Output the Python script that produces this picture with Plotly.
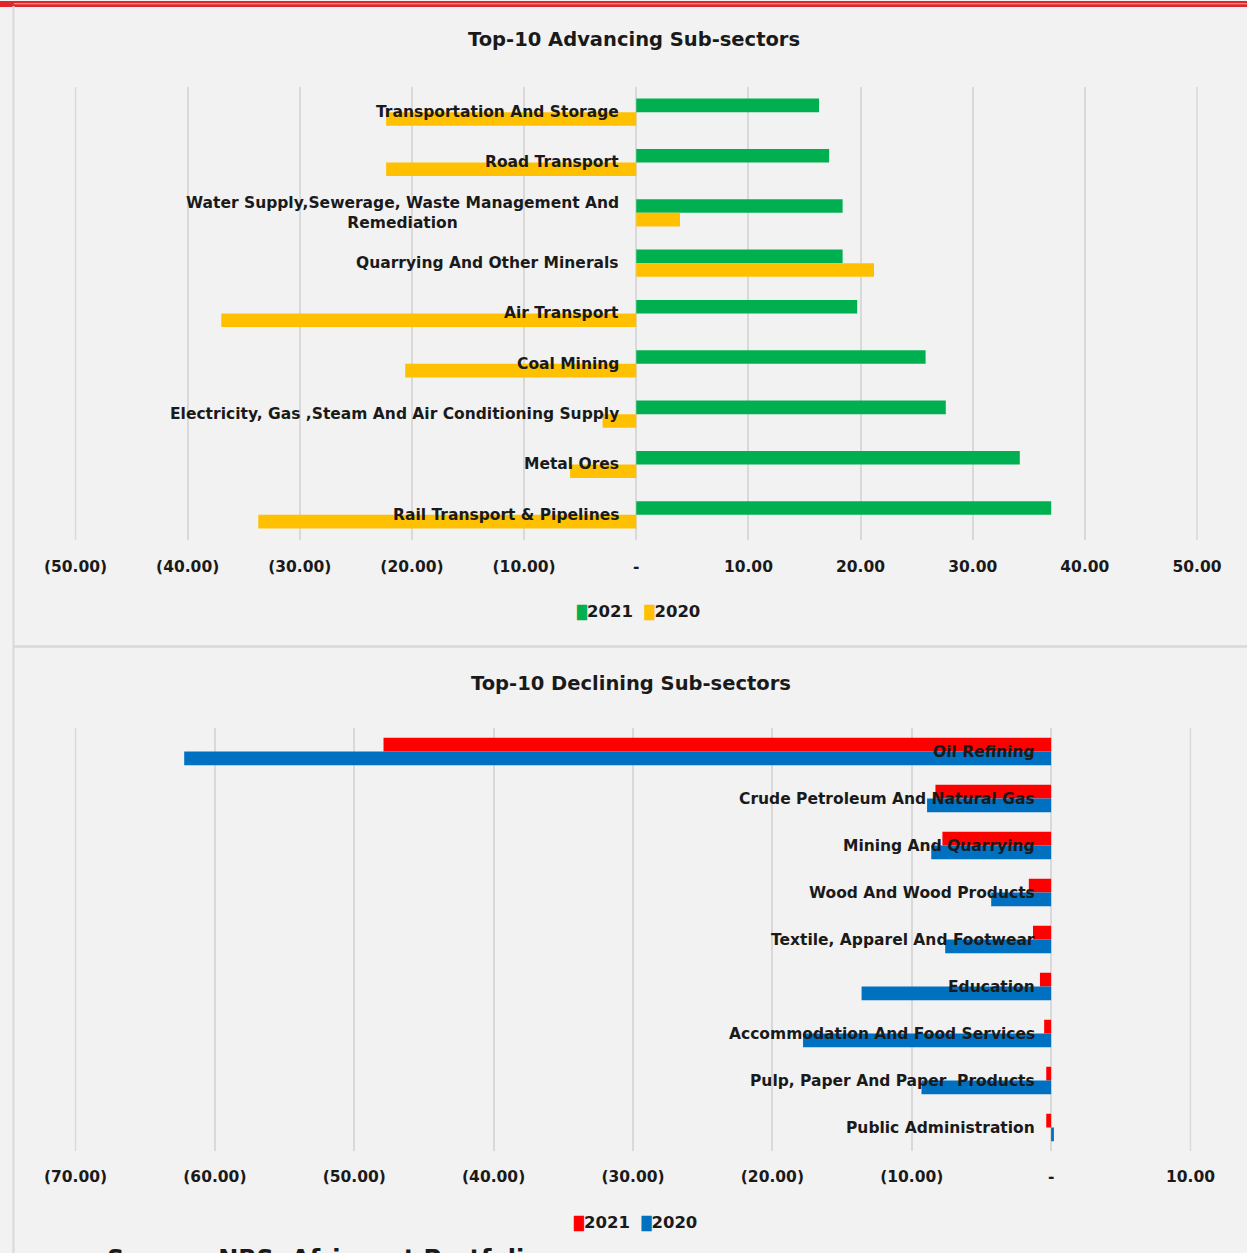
import plotly.graph_objects as go

# ---- Advancing sub-sectors (growth, %) ----
adv_categories = [
    "Transportation And Storage",
    "Road Transport",
    "Water Supply,Sewerage, Waste Management And<br>Remediation",
    "Quarrying And Other Minerals",
    "Air Transport",
    "Coal Mining",
    "Electricity, Gas ,Steam And Air Conditioning Supply",
    "Metal Ores",
    "Rail Transport & Pipelines",
]
adv_2021 = [16.3, 17.2, 18.4, 18.4, 19.7, 25.8, 27.6, 34.2, 37.0]
adv_2020 = [-22.3, -22.3, 3.9, 21.2, -37.0, -20.6, -3.0, -5.9, -33.7]

# ---- Declining sub-sectors (growth, %) ----
dec_categories = [
    "Oil Refining",
    "Crude Petroleum And Natural Gas",
    "Mining And Quarrying",
    "Wood And Wood Products",
    "Textile, Apparel And Footwear",
    "Education",
    "Accommodation And Food Services",
    "Pulp, Paper And Paper  Products",
    "Public Administration",
]
dec_2021 = [-47.9, -8.3, -7.8, -1.6, -1.3, -0.8, -0.5, -0.35, -0.35]
dec_2020 = [-62.2, -8.9, -8.6, -4.3, -7.6, -13.6, -17.8, -9.3, 0.2]

adv_ticks = [-50, -40, -30, -20, -10, 0, 10, 20, 30, 40, 50]
dec_ticks = [-70, -60, -50, -40, -30, -20, -10, 0, 10]

series_years = ["2021", "2020"]
adv_colors = ["#00b050", "#ffc000"]
dec_colors = ["#ff0000", "#0070c0"]


def tick_text(v):
    if v == 0:
        return "-"
    if v < 0:
        return f"({abs(v):.2f})"
    return f"{v:.2f}"


W, H = 1247, 1253
FONT = "DejaVu Sans"
TXT = "#1a1a1a"
GRID = "#d9d9d9"
BG = "#f2f2f2"


def px(x):
    return x / W


def py(y):
    return 1 - y / H


fig = go.Figure()

# top chart bars
fig.add_trace(go.Bar(y=adv_categories, x=adv_2021, orientation="h", name=series_years[0],
                     marker=dict(color=adv_colors[0], line=dict(width=0)),
                     width=0.27, offset=-0.27, xaxis="x", yaxis="y"))
fig.add_trace(go.Bar(y=adv_categories, x=adv_2020, orientation="h", name=series_years[1],
                     marker=dict(color=adv_colors[1], line=dict(width=0)),
                     width=0.27, offset=0, xaxis="x", yaxis="y"))

# bottom chart bars
fig.add_trace(go.Bar(y=dec_categories, x=dec_2021, orientation="h", name=series_years[0],
                     marker=dict(color=dec_colors[0], line=dict(width=0)),
                     width=0.29, offset=-0.29, xaxis="x2", yaxis="y2"))
fig.add_trace(go.Bar(y=dec_categories, x=dec_2020, orientation="h", name=series_years[1],
                     marker=dict(color=dec_colors[1], line=dict(width=0)),
                     width=0.29, offset=0, xaxis="x2", yaxis="y2"))

axis_font = dict(family=FONT, size=15.5, color=TXT, weight="bold")
label_font = dict(family=FONT, size=15.5, color=TXT, weight="bold")

annotations = []
for cat in adv_categories:
    annotations.append(dict(x=0, y=cat, xref="x", yref="y", text=cat, showarrow=False,
                            xanchor="right", yanchor="middle", align="center", xshift=-15,
                            font=label_font))
for cat in dec_categories:
    annotations.append(dict(x=0, y=cat, xref="x2", yref="y2", text=cat, showarrow=False,
                            xanchor="right", yanchor="middle", align="center", xshift=-14,
                            font=label_font))

# chart titles
annotations.append(dict(x=px(634), y=py(40), xref="paper", yref="paper",
                        text="Top-10 Advancing Sub-sectors", showarrow=False,
                        xanchor="center", yanchor="middle",
                        font=dict(family=FONT, size=19.5, color=TXT, weight="bold")))
annotations.append(dict(x=px(631), y=py(683), xref="paper", yref="paper",
                        text="Top-10 Declining Sub-sectors", showarrow=False,
                        xanchor="center", yanchor="middle",
                        font=dict(family=FONT, size=19.5, color=TXT, weight="bold")))


def legend_text(colors):
    return (f"<span style='color:{colors[0]};font-size:13px'>█</span>{series_years[0]}  "
            f"<span style='color:{colors[1]};font-size:13px'>█</span>{series_years[1]}")


legend_font = dict(family=FONT, size=16.5, color=TXT, weight="bold")
annotations.append(dict(x=px(638), y=py(611), xref="paper", yref="paper",
                        text=legend_text(adv_colors), showarrow=False,
                        xanchor="center", yanchor="middle", font=legend_font))
annotations.append(dict(x=px(635), y=py(1222), xref="paper", yref="paper",
                        text=legend_text(dec_colors), showarrow=False,
                        xanchor="center", yanchor="middle", font=legend_font))

# source line running off the bottom edge
annotations.append(dict(x=px(105), y=py(1243), xref="paper", yref="paper",
                        text="Source: NBS, Afrinvest Portfolio", showarrow=False,
                        xanchor="left", yanchor="top",
                        font=dict(family=FONT, size=24, color=TXT, weight="bold")))

shapes = [
    # red header rule
    dict(type="rect", xref="paper", yref="paper", x0=0, x1=1, y0=py(7), y1=py(1),
         fillcolor="#e0262b", line=dict(width=0), layer="above"),
    dict(type="rect", xref="paper", yref="paper", x0=px(14), x1=1, y0=py(4.3), y1=py(3.2),
         fillcolor="#efb4b4", line=dict(width=0), layer="above"),
    # left frame line
    dict(type="line", xref="paper", yref="paper", x0=px(13.5), x1=px(13.5), y0=0, y1=py(6),
         line=dict(color=GRID, width=2)),
    # separator between the two panels
    dict(type="line", xref="paper", yref="paper", x0=px(14), x1=1, y0=py(646.5), y1=py(646.5),
         line=dict(color=GRID, width=2.5)),
]

# outermost gridlines at the first and last tick of each axis
for xr, yr, ticks in (("x", "y domain", adv_ticks), ("x2", "y2 domain", dec_ticks)):
    for v in (ticks[0], ticks[-1]):
        shapes.append(dict(type="line", xref=xr, yref=yr, x0=v, x1=v, y0=0, y1=1,
                           line=dict(color=GRID, width=1.5), layer="below"))

# a 1px pad on each side keeps the outermost gridlines inside the plot area
pad_top = 1 / ((1197 - 75.5) / 100)
pad_bot = 1 / ((1190.5 - 75.5) / 80)

fig.update_layout(
    width=W, height=H,
    margin=dict(l=0, r=0, t=0, b=0, autoexpand=False),
    paper_bgcolor=BG, plot_bgcolor=BG,
    barmode="group",
    showlegend=False,
    font=dict(family=FONT, color=TXT),
    xaxis=dict(domain=[px(74.5), px(1198)], range=[-50 - pad_top, 50 + pad_top], anchor="y",
               automargin=False,
               tickmode="array", tickvals=adv_ticks, ticktext=[tick_text(v) for v in adv_ticks],
               showgrid=True, gridcolor=GRID, gridwidth=1.5, zeroline=False,
               showline=False, ticks="", ticklabelstandoff=15, tickfont=axis_font),
    yaxis=dict(domain=[py(540), py(87)], anchor="x", autorange="reversed", automargin=False,
               showticklabels=False, showgrid=False, zeroline=False, ticks=""),
    xaxis2=dict(domain=[px(74.5), px(1191.5)], range=[-70 - pad_bot, 10 + pad_bot], anchor="y2",
                automargin=False,
                tickmode="array", tickvals=dec_ticks, ticktext=[tick_text(v) for v in dec_ticks],
                showgrid=True, gridcolor=GRID, gridwidth=1.5, zeroline=False,
                showline=False, ticks="", ticklabelstandoff=14, tickfont=axis_font),
    yaxis2=dict(domain=[py(1151), py(728)], anchor="x2", autorange="reversed", automargin=False,
                showticklabels=False, showgrid=False, zeroline=False, ticks=""),
    annotations=annotations,
    shapes=shapes,
)

fig.write_html("out.html")
